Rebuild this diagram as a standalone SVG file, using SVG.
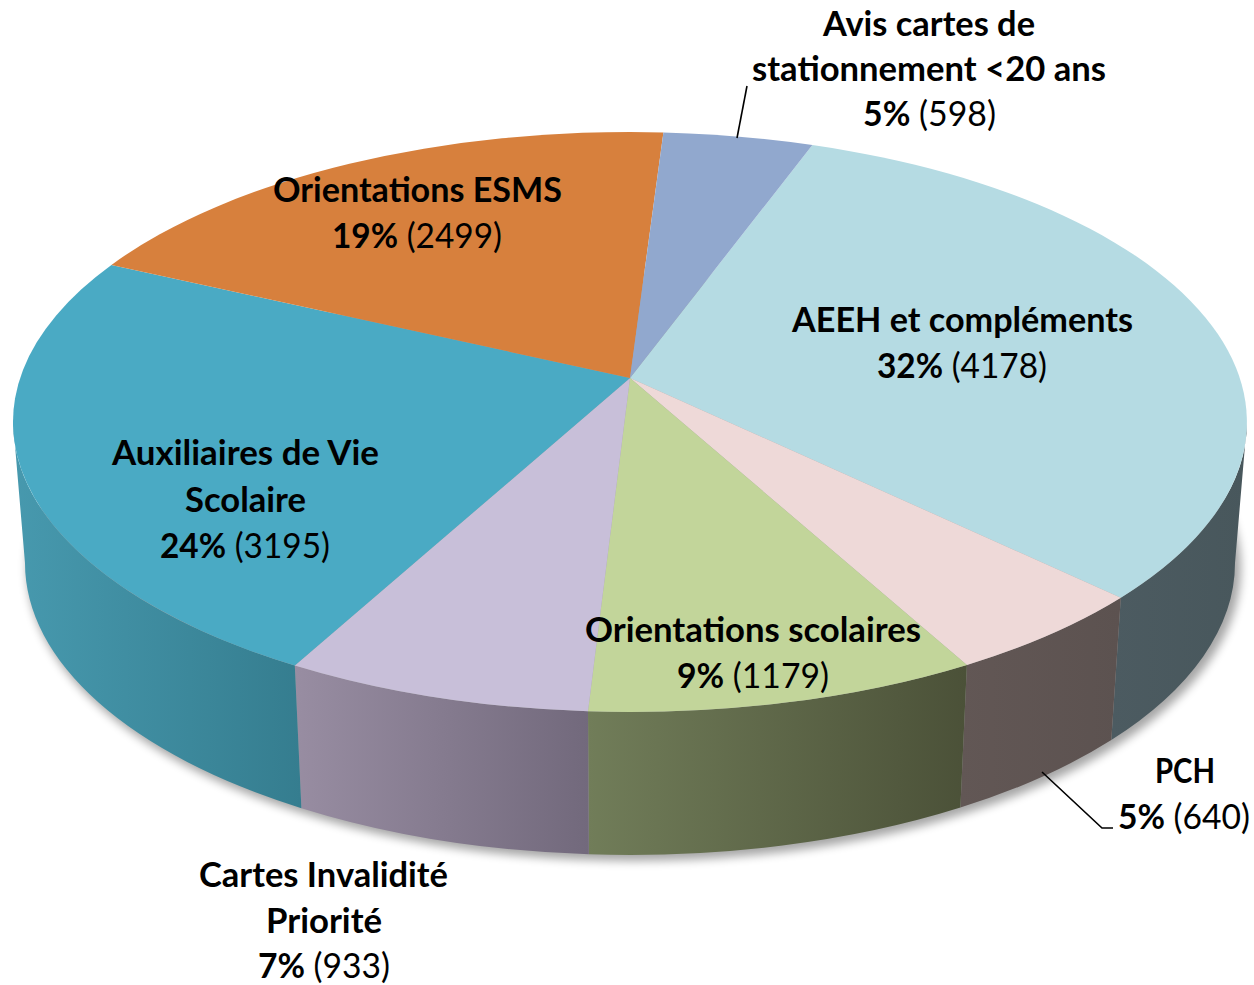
<svg xmlns="http://www.w3.org/2000/svg" width="1254" height="985" viewBox="0 0 1254 985">
<style>
text{font-family:Lato,"Open Sans","Liberation Sans",sans-serif;font-size:35px;fill:#000;text-anchor:middle}
.b{font-weight:bold}
.r{font-weight:normal}
.lead{fill:none;stroke:#000;stroke-width:1.6}
</style>
<defs>
<filter id="sh" x="-10%" y="-10%" width="120%" height="130%"><feGaussianBlur stdDeviation="5"/></filter>
<linearGradient id="gTeal" x1="0" y1="0" x2="1" y2="0"><stop offset="0" stop-color="#4799ae"/><stop offset="1" stop-color="#357d8f"/></linearGradient>
<linearGradient id="gLav" x1="0" y1="0" x2="1" y2="0"><stop offset="0" stop-color="#988da2"/><stop offset="1" stop-color="#72697c"/></linearGradient>
<linearGradient id="gGreen" x1="0" y1="0" x2="1" y2="0"><stop offset="0" stop-color="#717d59"/><stop offset="1" stop-color="#4b5138"/></linearGradient>
<linearGradient id="gBrown" x1="0" y1="0" x2="1" y2="0"><stop offset="0" stop-color="#625755"/><stop offset="1" stop-color="#5c5250"/></linearGradient>
<linearGradient id="gSlate" x1="0" y1="0" x2="1" y2="0"><stop offset="0" stop-color="#4c5b61"/><stop offset="1" stop-color="#48575c"/></linearGradient>
</defs>
<rect width="1254" height="985" fill="#fff"/>
<ellipse cx="634" cy="568" rx="607" ry="293" fill="#000" opacity="0.35" filter="url(#sh)"/>
<g id="sides">
<path d="M1247,422 A617,290 0 0 1 1120.8,597.7 L1111.3,740 A605,292 0 0 0 1235,563 Z" fill="url(#gSlate)"/>
<path d="M1120.8,597.7 A617,290 0 0 1 966.9,664.9 L960.4,807.6 A605,292 0 0 0 1111.3,740 Z" fill="url(#gBrown)"/>
<path d="M966.9,664.9 A617,290 0 0 1 588,711.3 L588.9,854.3 A605,292 0 0 0 960.4,807.6 Z" fill="url(#gGreen)"/>
<path d="M588,711.3 A617,290 0 0 1 294.8,665.5 L301.4,808.2 A605,292 0 0 0 588.9,854.3 Z" fill="url(#gLav)"/>
<path d="M294.8,665.5 A617,290 0 0 1 13,422 L25,563 A605,292 0 0 0 301.4,808.2 Z" fill="url(#gTeal)"/>
</g>
<g id="slice-aeeh"><path d="M630,378 L812.4,145 A617,290 0 0 1 1120.8,597.7 Z" fill="#b5dbe3"/></g>
<g id="slice-pch"><path d="M630,378 L1120.8,597.7 A617,290 0 0 1 966.9,664.9 Z" fill="#eed9d8"/></g>
<g id="slice-scol"><path d="M630,378 L966.9,664.9 A617,290 0 0 1 588,711.3 Z" fill="#c2d59a"/></g>
<g id="slice-cartes"><path d="M630,378 L588,711.3 A617,290 0 0 1 294.8,665.5 Z" fill="#c8bfd9"/></g>
<g id="slice-avs"><path d="M630,378 L294.8,665.5 A617,290 0 0 1 111.4,264.9 Z" fill="#4aaac4"/></g>
<g id="slice-esms"><path d="M630,378 L111.4,264.9 A617,290 0 0 1 663.4,132.4 Z" fill="#d7803d"/></g>
<g id="slice-avis"><path d="M630,378 L663.4,132.4 A617,290 0 0 1 812.4,145 Z" fill="#91a8ce"/></g>
<g id="connectors">
<path class="lead" d="M737,138 L747,86"/>
<path class="lead" d="M1042,772 L1102,828 L1113,828"/>
</g>
<g id="label-avis">
<text x="929" y="36" class="b" textLength="212" lengthAdjust="spacingAndGlyphs">Avis cartes de</text>
<text x="929" y="81" class="b" textLength="354" lengthAdjust="spacingAndGlyphs">stationnement &lt;20 ans</text>
<text x="929.5" y="126" textLength="133" lengthAdjust="spacingAndGlyphs"><tspan class="b">5%</tspan><tspan class="r"> (598)</tspan></text>
</g>
<g id="label-esms">
<text x="417.5" y="202" class="b" textLength="289" lengthAdjust="spacingAndGlyphs">Orientations ESMS</text>
<text x="417" y="248" textLength="170" lengthAdjust="spacingAndGlyphs"><tspan class="b">19%</tspan><tspan class="r"> (2499)</tspan></text>
</g>
<g id="label-aeeh">
<text x="962.5" y="332" class="b" textLength="341" lengthAdjust="spacingAndGlyphs">AEEH et compléments</text>
<text x="962" y="378" textLength="170" lengthAdjust="spacingAndGlyphs"><tspan class="b">32%</tspan><tspan class="r"> (4178)</tspan></text>
</g>
<g id="label-avs">
<text x="245.5" y="465" class="b" textLength="267" lengthAdjust="spacingAndGlyphs">Auxiliaires de Vie</text>
<text x="245.5" y="512" class="b" textLength="121" lengthAdjust="spacingAndGlyphs">Scolaire</text>
<text x="245" y="558" textLength="170" lengthAdjust="spacingAndGlyphs"><tspan class="b">24%</tspan><tspan class="r"> (3195)</tspan></text>
</g>
<g id="label-scol">
<text x="753" y="642" class="b" textLength="336" lengthAdjust="spacingAndGlyphs">Orientations scolaires</text>
<text x="753" y="688" textLength="152" lengthAdjust="spacingAndGlyphs"><tspan class="b">9%</tspan><tspan class="r"> (1179)</tspan></text>
</g>
<g id="label-pch">
<text x="1185" y="783" class="b" textLength="60" lengthAdjust="spacingAndGlyphs">PCH</text>
<text x="1184" y="829" textLength="132" lengthAdjust="spacingAndGlyphs"><tspan class="b">5%</tspan><tspan class="r"> (640)</tspan></text>
</g>
<g id="label-cartes">
<text x="323.5" y="887" class="b" textLength="249" lengthAdjust="spacingAndGlyphs">Cartes Invalidité</text>
<text x="324" y="933" class="b" textLength="116" lengthAdjust="spacingAndGlyphs">Priorité</text>
<text x="324" y="978" textLength="132" lengthAdjust="spacingAndGlyphs"><tspan class="b">7%</tspan><tspan class="r"> (933)</tspan></text>
</g>
</svg>
